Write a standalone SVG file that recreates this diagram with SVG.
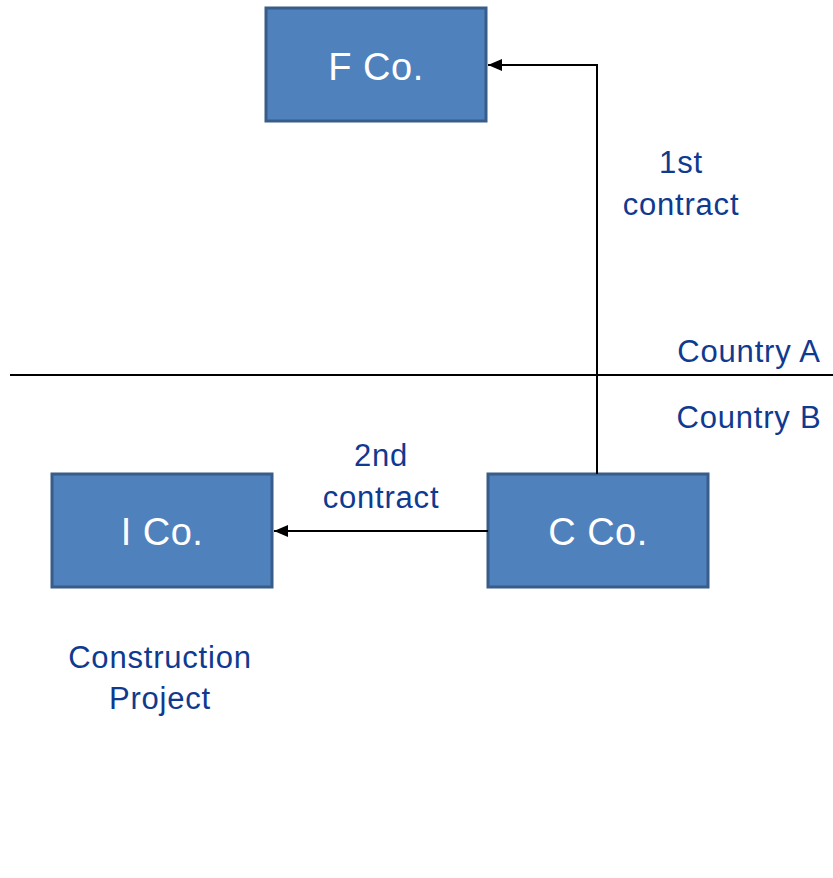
<svg xmlns="http://www.w3.org/2000/svg" width="833" height="878" viewBox="0 0 833 878">
<style>
.box{fill:#4F81BD;stroke:#385D8A;stroke-width:3}
.bt{font-family:"Liberation Sans",Arial,sans-serif;font-size:38px;fill:#fff;text-anchor:middle;letter-spacing:0.5px}
.lb{font-family:"Liberation Sans",Arial,sans-serif;font-size:31px;fill:#0F3A8F;text-anchor:middle;letter-spacing:0.8px}
.ln{stroke:#000;stroke-width:2;fill:none}
</style>
<defs>
<marker id="ah" markerWidth="14" markerHeight="12" refX="14" refY="6" orient="auto" markerUnits="userSpaceOnUse">
<path d="M0,0 L14,6 L0,12 z" fill="#000"/>
</marker>
</defs>
<rect width="833" height="878" fill="#fff"/>
<g id="f-co"><rect class="box" x="266" y="8" width="220" height="113"/><text class="bt" x="376" y="80">F Co.</text></g>
<g id="i-co"><rect class="box" x="52" y="474" width="220" height="113"/><text class="bt" x="162" y="545">I Co.</text></g>
<g id="c-co"><rect class="box" x="488" y="474" width="220" height="113"/><text class="bt" x="598" y="545">C Co.</text></g>
<g id="connectors">
<line class="ln" x1="10" y1="375" x2="833" y2="375"/>
<polyline class="ln" points="597,474 597,65 488,65" marker-end="url(#ah)"/>
<line class="ln" x1="488" y1="531" x2="274" y2="531" marker-end="url(#ah)"/>
</g>
<g id="labels">
<text class="lb" x="681" y="173">1st</text>
<text class="lb" x="681" y="215">contract</text>
<text class="lb" x="381" y="466">2nd</text>
<text class="lb" x="381" y="508">contract</text>
<text class="lb" x="749" y="362">Country A</text>
<text class="lb" x="749" y="428">Country B</text>
<text class="lb" x="160" y="668">Construction</text>
<text class="lb" x="160" y="709">Project</text>
</g>
</svg>
